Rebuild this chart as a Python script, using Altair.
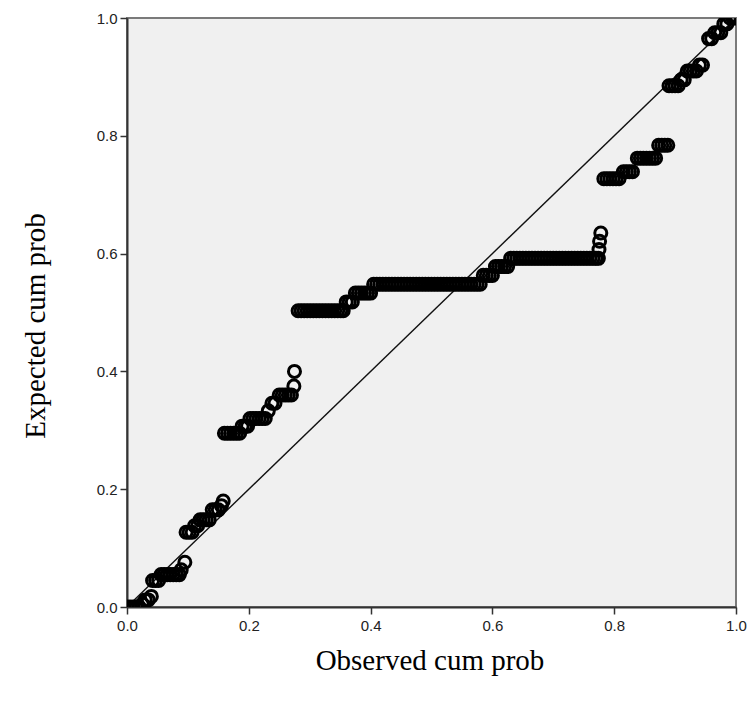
import altair as alt
import pandas as pd

# Expected cumulative probability levels (y) and the observed cumulative probabilities (x) of the points at each level
level_y = [0.0, 0.005, 0.012, 0.018,
           0.045, 0.055, 0.063, 0.076,
           0.127, 0.138, 0.148, 0.165, 0.172, 0.18,
           0.295, 0.307, 0.32, 0.333, 0.346, 0.36, 0.375, 0.40,
           0.503, 0.518, 0.533, 0.548, 0.563, 0.578, 0.592, 0.607, 0.621, 0.635,
           0.727, 0.739, 0.762, 0.784,
           0.885, 0.895, 0.91, 0.92, 0.965, 0.975, 0.99, 1.0]
level_x = [
    [0.0, 0.005, 0.01, 0.015, 0.02],
    [0.025],
    [0.03, 0.035],
    [0.04],
    [0.042, 0.047, 0.052],
    [0.056, 0.061, 0.066, 0.071, 0.076, 0.081, 0.086],
    [0.089],
    [0.095],
    [0.097, 0.102, 0.107],
    [0.111, 0.116],
    [0.12, 0.125, 0.13, 0.135],
    [0.14, 0.145, 0.15],
    [0.155],
    [0.158],
    [0.160, 0.165, 0.170, 0.175, 0.180, 0.185],
    [0.189, 0.194, 0.198],
    [0.202, 0.207, 0.212, 0.217, 0.222, 0.227],
    [0.232],
    [0.238, 0.243],
    [0.25, 0.255, 0.26, 0.265, 0.27],
    [0.274],
    [0.275],
    [0.281, 0.286, 0.291, 0.296, 0.301, 0.306, 0.311, 0.316, 0.321, 0.326, 0.331, 0.336, 0.341, 0.346, 0.351, 0.355],
    [0.36, 0.365, 0.37],
    [0.375, 0.38, 0.385, 0.39, 0.395, 0.40],
    [0.405, 0.41, 0.415, 0.42, 0.425, 0.43, 0.435, 0.44, 0.445, 0.45, 0.455, 0.46, 0.465, 0.47, 0.475,
     0.48, 0.485, 0.49, 0.495, 0.50, 0.505, 0.51, 0.515, 0.52, 0.525, 0.53, 0.535, 0.54, 0.545, 0.55,
     0.555, 0.56, 0.565, 0.57, 0.575, 0.58],
    [0.585, 0.59, 0.595, 0.60],
    [0.605, 0.61, 0.615, 0.62, 0.625],
    [0.63, 0.635, 0.64, 0.645, 0.65, 0.655, 0.66, 0.665, 0.67, 0.675, 0.68, 0.685, 0.69, 0.695, 0.70,
     0.705, 0.71, 0.715, 0.72, 0.725, 0.73, 0.735, 0.74, 0.745, 0.75, 0.755, 0.76, 0.765, 0.77, 0.774],
    [0.775],
    [0.776],
    [0.778],
    [0.783, 0.788, 0.793, 0.798, 0.803, 0.808],
    [0.815, 0.82, 0.825, 0.83],
    [0.838, 0.843, 0.848, 0.853, 0.858, 0.863, 0.868],
    [0.873, 0.878, 0.883, 0.888],
    [0.89, 0.895, 0.9, 0.905],
    [0.91, 0.915],
    [0.92, 0.925, 0.93, 0.935],
    [0.94, 0.945],
    [0.955, 0.96],
    [0.965, 0.97, 0.975],
    [0.98, 0.985],
    [0.99, 0.995, 1.0],
]

ref_x = [0.0, 1.0]
ref_y = [0.0, 1.0]
tick_values = [0.0, 0.2, 0.4, 0.6, 0.8, 1.0]

obs, exp = [], []
for yv, xs in zip(level_y, level_x):
    for xv in xs:
        obs.append(xv)
        exp.append(yv)
pts = pd.DataFrame({"obs": obs, "exp": exp})
ref = pd.DataFrame({"obs": ref_x, "exp": ref_y})

W, H = 609, 589

xscale = alt.Scale(domain=[0, 1], nice=False, zero=False)
yscale = alt.Scale(domain=[0, 1], nice=False, zero=False)

xaxis = alt.Axis(values=tick_values, format=".1f", title="Observed cum prob",
                 grid=False, tickSize=7, labelPadding=4, labelFlush=False,
                 titleX=W / 2 - 2, titleY=53, titleBaseline="middle", titleAlign="center")
yaxis = alt.Axis(values=tick_values, format=".1f", title="Expected cum prob",
                 grid=False, tickSize=7, labelPadding=3, labelFlush=False,
                 titleX=-92, titleY=H / 2 + 13, titleBaseline="middle", titleAlign="center",
                 titleAngle=-90)

line = alt.Chart(ref).mark_line(color="#111111", strokeWidth=1.4, clip=True).encode(
    x=alt.X("obs:Q", scale=xscale, axis=xaxis),
    y=alt.Y("exp:Q", scale=yscale, axis=yaxis),
)

points = alt.Chart(pts).mark_point(shape="circle", filled=False, color="#000000",
                                   size=145, strokeWidth=3, opacity=1, clip=True).encode(
    x=alt.X("obs:Q", scale=xscale),
    y=alt.Y("exp:Q", scale=yscale),
)

chart = (line + points).properties(
    width=W, height=H,
    autosize=alt.AutoSizeParams(type="none"),
    padding={"left": 119, "top": 10, "right": 11, "bottom": 80},
    background="white",
).configure_view(
    fill="#F0F0F0", stroke="#7a7a7a", strokeWidth=2,
).configure_axis(
    domainColor="#333333", domainWidth=2, tickColor="#333333", tickWidth=1.5,
    labelFont="Liberation Sans", labelFontSize=15, labelColor="#222222",
    titleFont="Liberation Serif", titleFontSize=29, titleFontWeight="normal", titleColor="#000000",
)

chart.save("out.html", embed_options={"renderer": "svg", "actions": False})
